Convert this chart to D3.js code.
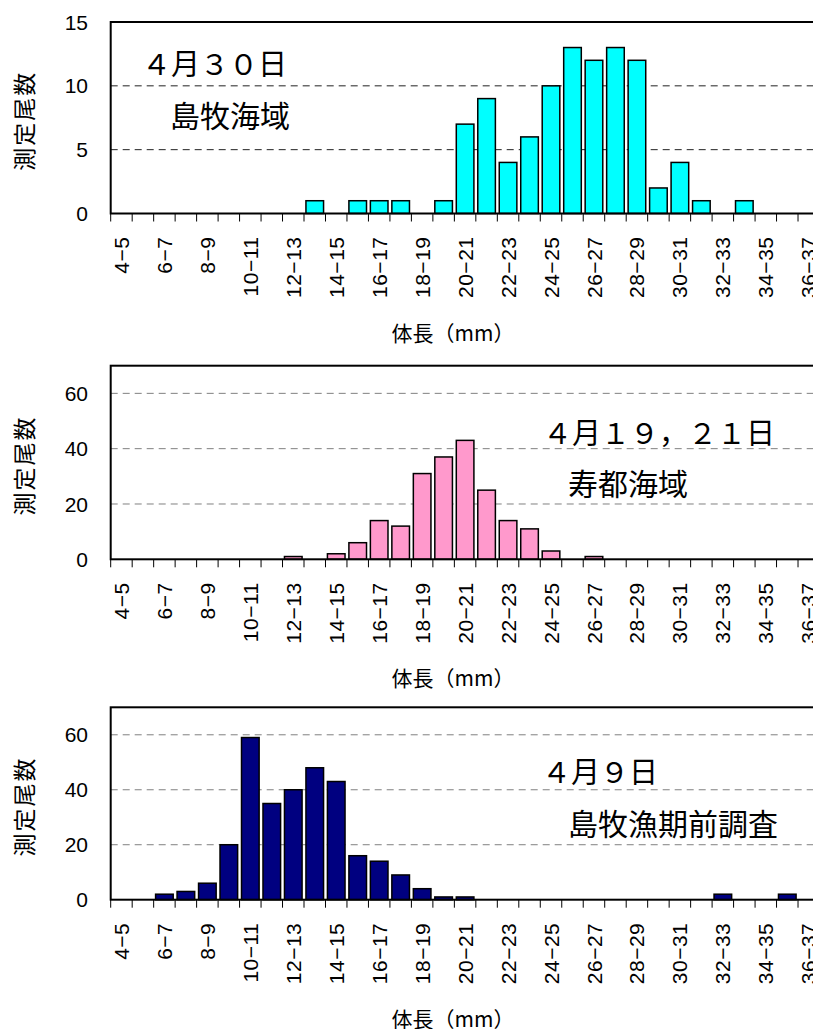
<!DOCTYPE html>
<html>
<head>
<meta charset="utf-8">
<script src="https://cdn.jsdelivr.net/npm/d3@7/dist/d3.min.js"></script>
<style>
  html, body { margin: 0; padding: 0; background: #fff; }
  svg { display: block; }
</style>
</head>
<body>
<div id="chart"></div>
<script>
// 体長組成 3 panels
const categories = ['4-5','5-6','6-7','7-8','8-9','9-10','10-11','11-12','12-13','13-14','14-15',
  '15-16','16-17','17-18','18-19','19-20','20-21','21-22','22-23','23-24','24-25','25-26',
  '26-27','27-28','28-29','29-30','30-31','31-32','32-33','33-34','34-35','35-36','36-37'];
const xTickLabels = ['4-5','6-7','8-9','10-11','12-13','14-15','16-17','18-19','20-21','22-23',
  '24-25','26-27','28-29','30-31','32-33','34-35','36-37'];

// 4月30日 島牧海域
const shimamakiApr30 = [0,0,0,0,0,0,0,0,0,1,0,1,1,1,0,1,7,9,4,6,10,13,12,13,12,2,4,1,0,1,0,0,0];
// 4月19,21日 寿都海域
const suttsuApr19 = [0,0,0,0,0,0,0,0,1,0,2,6,14,12,31,37,43,25,14,11,3,0,1,0,0,0,0,0,0,0,0,0,0];
// 4月9日 島牧漁期前調査
const shimamakiApr9 = [0,0,2,3,6,20,59,35,40,48,43,16,14,9,4,1,1,0,0,0,0,0,0,0,0,0,0,0,2,0,0,2,0];

const yTicksTop = [0, 5, 10, 15];
const yTicksLow = [0, 20, 40, 60];

const W = 813, H = 1029;
const left = 110.7, right = 819.5;

const panels = [
  { values: shimamakiApr30, yMax: 15, ticks: yTicksTop, color: '#00ffff', grid: '#222', gridDash: '7,5',
    top: 22, bottom: 213.5, date: '４月３０日', dateX: 142, dateY: 62, area: '島牧海域', areaX: 170, areaY: 114 },
  { values: suttsuApr19, yMax: 70, ticks: yTicksLow, color: '#ff99cc', grid: '#808080', gridDash: '7,5',
    top: 365.7, bottom: 559.3, date: '４月１９，２１日', dateX: 543, dateY: 431, area: '寿都海域', areaX: 568, areaY: 482 },
  { values: shimamakiApr9, yMax: 70, ticks: yTicksLow, color: '#000080', grid: '#808080', gridDash: '7,5',
    top: 707.3, bottom: 899.7, date: '４月９日', dateX: 542, dateY: 770, area: '島牧漁期前調査', areaX: 568, areaY: 822 }
];

const svg = d3.select('#chart').append('svg')
  .attr('width', W).attr('height', H)
  .attr('viewBox', `0 0 ${W} ${H}`);

const latin = '"Liberation Sans", Arial, sans-serif';
const cjk = '"Noto Sans CJK JP", "Noto Sans", sans-serif';

const x = d3.scaleBand().domain(categories).range([left, right])
  .paddingInner(0.18).paddingOuter(0.09);
const step = x.step();
const boundary = c => x(c) - step * x.paddingOuter();

panels.forEach(p => {
  const y = d3.scaleLinear().domain([0, p.yMax]).range([p.bottom, p.top]);
  const g = svg.append('g');

  // gridlines
  g.selectAll('line.grid')
    .data(p.ticks.filter(t => t > 0 && t < p.yMax))
    .join('line')
    .attr('class', 'grid')
    .attr('x1', left).attr('x2', right)
    .attr('y1', d => y(d)).attr('y2', d => y(d))
    .attr('stroke', p.grid).attr('stroke-width', 1)
    .attr('stroke-dasharray', p.gridDash);

  // annotations
  g.append('text')
    .attr('x', p.dateX).attr('y', p.dateY)
    .attr('dominant-baseline', 'central')
    .attr('font-family', cjk).attr('font-size', 29)
    .attr('fill', '#000')
    .text(p.date);
  g.append('text')
    .attr('x', p.areaX).attr('y', p.areaY)
    .attr('dominant-baseline', 'central')
    .attr('font-family', cjk).attr('font-size', 30)
    .attr('fill', '#000')
    .text(p.area);

  // bars
  g.selectAll('rect.bar')
    .data(categories.map((c, i) => ({ c, v: p.values[i] })).filter(d => d.v > 0))
    .join('rect')
    .attr('class', 'bar')
    .attr('x', d => x(d.c))
    .attr('width', x.bandwidth())
    .attr('y', d => y(d.v))
    .attr('height', d => y(0) - y(d.v))
    .attr('fill', p.color)
    .attr('stroke', '#000').attr('stroke-width', 1.5);

  // frame
  g.append('rect')
    .attr('x', left).attr('y', p.top)
    .attr('width', right - left).attr('height', p.bottom - p.top)
    .attr('fill', 'none').attr('stroke', '#000').attr('stroke-width', 2);

  // x tick marks at category boundaries
  const bounds = categories.map(boundary).concat([right]);
  g.selectAll('line.xtick')
    .data(bounds)
    .join('line')
    .attr('class', 'xtick')
    .attr('x1', d => d).attr('x2', d => d)
    .attr('y1', p.bottom).attr('y2', p.bottom + 8)
    .attr('stroke', '#000').attr('stroke-width', 1);

  // x tick labels (every other class)
  g.selectAll('text.xlab')
    .data(xTickLabels)
    .join('text')
    .attr('class', 'xlab')
    .attr('transform', d => `translate(${x(d) + x.bandwidth() / 2},${p.bottom + 23}) rotate(-90)`)
    .attr('text-anchor', 'end')
    .attr('dy', '0.36em')
    .attr('font-family', latin).attr('font-size', 21)
    .attr('letter-spacing', 0.5)
    .attr('fill', '#000')
    .text(d => d.replace('-', '\u2212'));

  // y tick labels
  g.selectAll('text.ylab')
    .data(p.ticks)
    .join('text')
    .attr('class', 'ylab')
    .attr('x', 88).attr('y', d => y(d))
    .attr('text-anchor', 'end')
    .attr('dy', '0.36em')
    .attr('font-family', latin).attr('font-size', 21)
    .attr('fill', '#000')
    .text(d => d);

  // axis titles
  g.append('text')
    .attr('transform', `translate(23,${(p.top + p.bottom) / 2 + 3}) rotate(-90)`)
    .attr('text-anchor', 'middle')
    .attr('dominant-baseline', 'central')
    .attr('font-family', cjk).attr('font-size', 23)
    .attr('letter-spacing', 2)
    .attr('fill', '#000')
    .text('測定尾数');
  g.append('text')
    .attr('x', 453).attr('y', p.bottom + 118)
    .attr('text-anchor', 'middle')
    .attr('dominant-baseline', 'central')
    .attr('font-family', cjk).attr('font-size', 21)
    .attr('fill', '#000')
    .text('体長（mm）');
});
</script>
</body>
</html>
